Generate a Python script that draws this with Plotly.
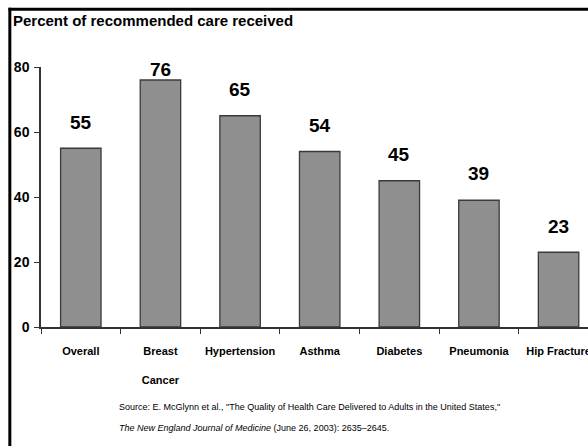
import plotly.graph_objects as go

categories = ["Overall", "Breast Cancer", "Hypertension", "Asthma", "Diabetes", "Pneumonia", "Hip Fracture"]
tick_labels = ["Overall", "Breast<br><br>Cancer", "Hypertension", "Asthma", "Diabetes", "Pneumonia", "Hip Fracture"]
values = [55, 76, 65, 54, 45, 39, 23]
label_shift = [26, 11, 26, 26, 26, 27, 26]  # px above bar top (style)
y_ticks = [0, 20, 40, 60, 80]

title_text = "Percent of recommended care received"
source_line1 = 'Source: E. McGlynn et al., "The Quality of Health Care Delivered to Adults in the United States,"'
source_line2 = "<i>The New England Journal of Medicine</i> (June 26, 2003): 2635–2645."

W, H = 588, 446
L, R, T, B = 40.5, 0, 67.3, 446 - 327
pw = W - L - R
ph = H - T - B

def px_x(px):
    return (px - L) / pw

def px_y(py):
    return (H - B - py) / ph

narrow = "Liberation Sans Narrow, Arial Narrow, Liberation Sans, Arial, sans-serif"
bold = "Liberation Sans, Arial, sans-serif"

fig = go.Figure()
fig.add_trace(go.Bar(
    x=categories, y=values,
    width=0.508,
    marker=dict(color="#8f8f8f", line=dict(color="#3a3a3a", width=1.3)),
    hoverinfo="skip",
))

for c, v, s in zip(categories, values, label_shift):
    fig.add_annotation(x=c, y=v, text=f"<b>{v}</b>", showarrow=False,
                       yanchor="middle", yshift=s,
                       font=dict(family=bold, size=19, color="#000"))

fig.add_annotation(xref="paper", yref="paper", x=px_x(117), y=px_y(407),
                   xanchor="left", yanchor="middle", text=source_line1,
                   showarrow=False, font=dict(family=narrow, size=9, color="#000"))
fig.add_annotation(xref="paper", yref="paper", x=px_x(117), y=px_y(428),
                   xanchor="left", yanchor="middle", text=source_line2,
                   showarrow=False, font=dict(family=narrow, size=9, color="#000"))

# frame lines (left and top)
fig.add_shape(type="line", xref="paper", yref="paper",
              x0=px_x(9.3), x1=px_x(9.3), y0=px_y(8), y1=px_y(460),
              line=dict(color="#000", width=3))
fig.add_shape(type="line", xref="paper", yref="paper",
              x0=px_x(8), x1=px_x(600), y0=px_y(9.5), y1=px_y(9.5),
              line=dict(color="#000", width=3))

fig.update_layout(
    width=W, height=H,
    margin=dict(l=L, r=R, t=T, b=B, pad=0),
    paper_bgcolor="white", plot_bgcolor="white",
    showlegend=False,
    title=dict(text=f"<b>{title_text}</b>", x=13 / W, xanchor="left",
               xref="container",
               y=1 - 21 / H, yanchor="middle",
               font=dict(family=bold, size=15, color="#000")),
    xaxis=dict(
        type="category", range=[-0.5, -0.5 + pw / 79.7],
        tickmode="array", tickvals=categories, ticktext=[f"<b>{t}</b>" for t in tick_labels],
        tickson="boundaries", ticks="outside", ticklen=5, tickwidth=1, tickcolor="#333",
        showline=True, linecolor="#333", linewidth=1.5,
        showgrid=False, zeroline=False,
        tickfont=dict(family=bold, size=11, color="#000"),
        ticklabelstandoff=13,
        automargin=False,
    ),
    yaxis=dict(
        range=[0, 80], tickvals=y_ticks, ticktext=[f"<b>{t}</b>" for t in y_ticks],
        ticks="outside", ticklen=5, tickwidth=1, tickcolor="#333",
        showline=True, linecolor="#333", linewidth=1.5,
        showgrid=False, zeroline=False,
        tickfont=dict(family=bold, size=14, color="#000"),
        ticklabelstandoff=2,
        automargin=False,
    ),
)

fig.write_html("out.html")
